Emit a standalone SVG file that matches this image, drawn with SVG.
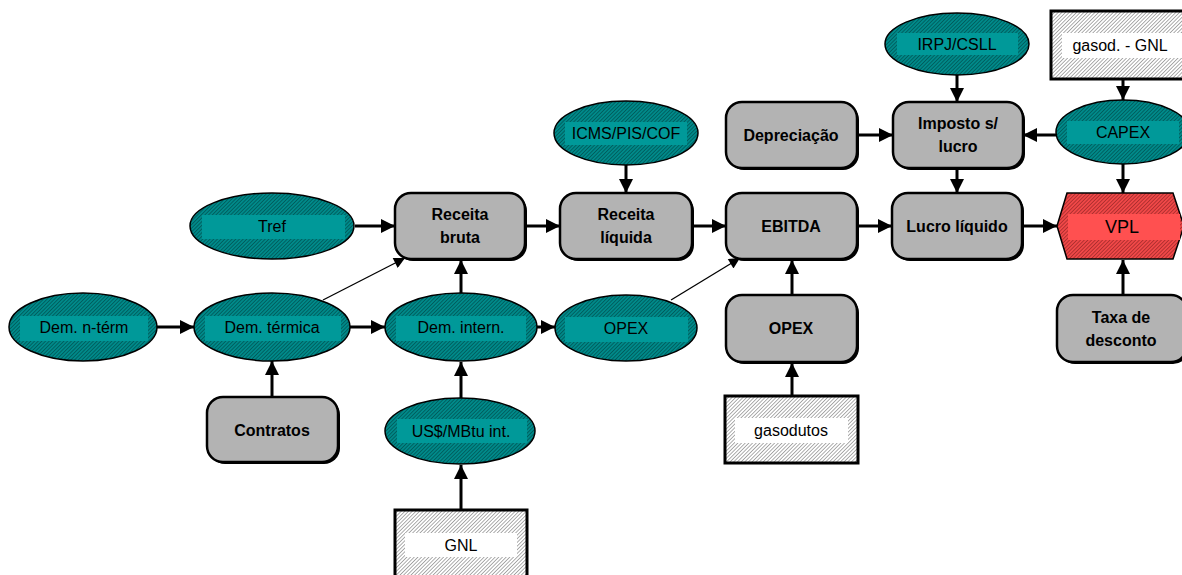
<svg xmlns="http://www.w3.org/2000/svg" width="1182" height="575" viewBox="0 0 1182 575">
<defs>
<pattern id="hT" width="2.6" height="2.6" patternUnits="userSpaceOnUse" patternTransform="rotate(45)">
<rect width="2.6" height="2.6" fill="#008a8a"/><line x1="0" y1="0" x2="0" y2="2.6" stroke="#003a3a" stroke-width="1"/>
</pattern>
<pattern id="hR" width="2.6" height="2.6" patternUnits="userSpaceOnUse" patternTransform="rotate(45)">
<rect width="2.6" height="2.6" fill="#f04848"/><line x1="0" y1="0" x2="0" y2="2.6" stroke="#7a1a1a" stroke-width="1"/>
</pattern>
<pattern id="hG" width="2.6" height="2.6" patternUnits="userSpaceOnUse" patternTransform="rotate(45)">
<rect width="2.6" height="2.6" fill="#ffffff"/><line x1="0" y1="0" x2="0" y2="2.6" stroke="#6a6a6a" stroke-width="1.1"/>
</pattern>
<marker id="ar" viewBox="0 0 10 10" refX="10" refY="5" markerWidth="4.7" markerHeight="4.7" orient="auto" markerUnits="strokeWidth">
<path d="M0,0 L10,5 L0,10 z" fill="#000"/>
</marker>
<marker id="ars" viewBox="0 0 10 10" refX="10" refY="5" markerWidth="13" markerHeight="11" orient="auto" markerUnits="userSpaceOnUse">
<path d="M0,0 L10,5 L0,10 z" fill="#000"/>
</marker>
</defs>
<style>
.el{fill:url(#hT);stroke:#000;stroke-width:1.5}
.eli{fill:#009999}
.rb{fill:#b3b3b3;stroke:#000;stroke-width:2.5}
.sh{fill:#000}
.hx{fill:url(#hG);stroke:#000;stroke-width:3}
.wb{fill:#fff}
.t{font-family:"Liberation Sans",Arial,sans-serif;font-size:16px;fill:#000;text-anchor:middle}
.b{font-weight:bold}
.c{stroke:#000;stroke-width:3;fill:none}
.cs{stroke:#000;stroke-width:1.3;fill:none}
</style>
<g id="connectors">
<line class="c" x1="157" y1="327" x2="194" y2="327" marker-end="url(#ar)"/>
<line class="c" x1="350" y1="327" x2="385" y2="327" marker-end="url(#ar)"/>
<line class="c" x1="537" y1="327" x2="555" y2="327" marker-end="url(#ar)"/>
<line class="c" x1="272" y1="397" x2="272" y2="361" marker-end="url(#ar)"/>
<line class="c" x1="461" y1="398" x2="461" y2="362" marker-end="url(#ar)"/>
<line class="c" x1="461" y1="510" x2="461" y2="465" marker-end="url(#ar)"/>
<line class="c" x1="461" y1="293" x2="461" y2="260" marker-end="url(#ar)"/>
<line class="cs" x1="323" y1="300" x2="405" y2="258" marker-end="url(#ars)"/>
<line class="c" x1="355" y1="226" x2="395" y2="226" marker-end="url(#ar)"/>
<line class="c" x1="525" y1="226" x2="560" y2="226" marker-end="url(#ar)"/>
<line class="c" x1="626" y1="164" x2="626" y2="193" marker-end="url(#ar)"/>
<line class="c" x1="692" y1="226" x2="726" y2="226" marker-end="url(#ar)"/>
<line class="cs" x1="671" y1="300" x2="740" y2="258" marker-end="url(#ars)"/>
<line class="c" x1="792" y1="295" x2="792" y2="260" marker-end="url(#ar)"/>
<line class="c" x1="792" y1="395" x2="792" y2="363" marker-end="url(#ar)"/>
<line class="c" x1="857" y1="226" x2="892" y2="226" marker-end="url(#ar)"/>
<line class="c" x1="857" y1="135" x2="893" y2="135" marker-end="url(#ar)"/>
<line class="c" x1="957" y1="75" x2="957" y2="102" marker-end="url(#ar)"/>
<line class="c" x1="1057" y1="135" x2="1023" y2="135" marker-end="url(#ar)"/>
<line class="c" x1="957" y1="168" x2="957" y2="193" marker-end="url(#ar)"/>
<line class="c" x1="1123" y1="79" x2="1123" y2="100" marker-end="url(#ar)"/>
<line class="c" x1="1123" y1="164" x2="1123" y2="193" marker-end="url(#ar)"/>
<line class="c" x1="1022" y1="226" x2="1057" y2="226" marker-end="url(#ar)"/>
<line class="c" x1="1123" y1="295" x2="1123" y2="260" marker-end="url(#ar)"/>
</g>
<g id="dem-nterm"><ellipse class="el" cx="83" cy="327" rx="74" ry="34"/><rect class="eli" x="20" y="316" width="128" height="25"/><text class="t" x="84" y="333">Dem. n-térm</text></g>
<g id="dem-termica"><ellipse class="el" cx="272" cy="327" rx="78" ry="34"/><rect class="eli" x="205" y="316" width="136" height="25"/><text class="t" x="272" y="333">Dem. térmica</text></g>
<g id="dem-intern"><ellipse class="el" cx="461" cy="327" rx="76" ry="34"/><rect class="eli" x="396" y="316" width="130" height="25"/><text class="t" x="461" y="333">Dem. intern.</text></g>
<g id="opex-el"><ellipse class="el" cx="626" cy="328" rx="71" ry="33"/><rect class="eli" x="565" y="317" width="123" height="25"/><text class="t" x="626" y="334">OPEX</text></g>
<g id="tref"><ellipse class="el" cx="272" cy="226" rx="82" ry="33"/><rect class="eli" x="202" y="215" width="143" height="24"/><text class="t" x="272" y="232">Tref</text></g>
<g id="icms"><ellipse class="el" cx="626" cy="133" rx="72" ry="32"/><rect class="eli" x="565" y="122" width="122" height="23"/><text class="t" x="626" y="139">ICMS/PIS/COF</text></g>
<g id="irpj"><ellipse class="el" cx="957" cy="44" rx="72" ry="31"/><rect class="eli" x="897" y="33" width="121" height="22"/><text class="t" x="957" y="50">IRPJ/CSLL</text></g>
<g id="capex"><ellipse class="el" cx="1123" cy="132" rx="67" ry="32"/><rect class="eli" x="1067" y="121" width="112" height="23"/><text class="t" x="1123" y="138">CAPEX</text></g>
<g id="usmbtu"><ellipse class="el" cx="460" cy="431" rx="75" ry="33"/><rect class="eli" x="397" y="419" width="130" height="24"/><text class="t" x="461" y="437">US$/MBtu int.</text></g>
<g id="receita-bruta"><rect class="sh" x="397" y="195" width="130" height="66" rx="16"/><rect class="rb" x="395" y="193" width="130" height="66" rx="16"/><text class="t b" x="460" y="220">Receita</text><text class="t b" x="460" y="243">bruta</text></g>
<g id="receita-liquida"><rect class="sh" x="562" y="195" width="132" height="66" rx="16"/><rect class="rb" x="560" y="193" width="132" height="66" rx="16"/><text class="t b" x="626" y="220">Receita</text><text class="t b" x="626" y="243">líquida</text></g>
<g id="ebitda"><rect class="sh" x="728" y="195" width="131" height="66" rx="16"/><rect class="rb" x="726" y="193" width="131" height="66" rx="16"/><text class="t b" x="791" y="232">EBITDA</text></g>
<g id="opex-rect"><rect class="sh" x="728" y="297" width="131" height="67" rx="16"/><rect class="rb" x="726" y="295" width="131" height="67" rx="16"/><text class="t b" x="791" y="334">OPEX</text></g>
<g id="lucro-liquido"><rect class="sh" x="894" y="195" width="130" height="66" rx="16"/><rect class="rb" x="892" y="193" width="130" height="66" rx="16"/><text class="t b" x="957" y="232">Lucro líquido</text></g>
<g id="imposto"><rect class="sh" x="895" y="104" width="130" height="66" rx="16"/><rect class="rb" x="893" y="102" width="130" height="66" rx="16"/><text class="t b" x="958" y="129">Imposto s/</text><text class="t b" x="958" y="152">lucro</text></g>
<g id="depreciacao"><rect class="sh" x="728" y="104" width="131" height="66" rx="16"/><rect class="rb" x="726" y="102" width="131" height="66" rx="16"/><text class="t b" x="791" y="141">Depreciação</text></g>
<g id="contratos"><rect class="sh" x="209" y="399" width="131" height="65" rx="16"/><rect class="rb" x="207" y="397" width="131" height="65" rx="16"/><text class="t b" x="272" y="436">Contratos</text></g>
<g id="taxa"><rect class="sh" x="1059" y="297" width="130" height="67" rx="16"/><rect class="rb" x="1057" y="295" width="130" height="67" rx="16"/><text class="t b" x="1121" y="323">Taxa de</text><text class="t b" x="1121" y="346">desconto</text></g>
<g id="vpl"><polygon points="1057,226 1067,193 1173,193 1184,226 1173,259 1067,259" fill="url(#hR)" stroke="#000" stroke-width="1.5"/><rect x="1068" y="214" width="112" height="26" fill="#ff5050"/><text class="t" x="1122" y="233" style="font-size:18px">VPL</text></g>
<g id="gnl"><rect class="hx" x="395" y="510" width="132" height="68"/><rect class="wb" x="405" y="533" width="112" height="24"/><text class="t" x="461" y="551">GNL</text></g>
<g id="gasodutos"><rect class="hx" x="725" y="396" width="133" height="67"/><rect class="wb" x="735" y="418" width="113" height="25"/><text class="t" x="791" y="436">gasodutos</text></g>
<g id="gasod-gnl"><rect class="hx" x="1051" y="11" width="140" height="68"/><rect class="wb" x="1062" y="33" width="125" height="25"/><text class="t" x="1120" y="51">gasod. - GNL</text></g>
</svg>
